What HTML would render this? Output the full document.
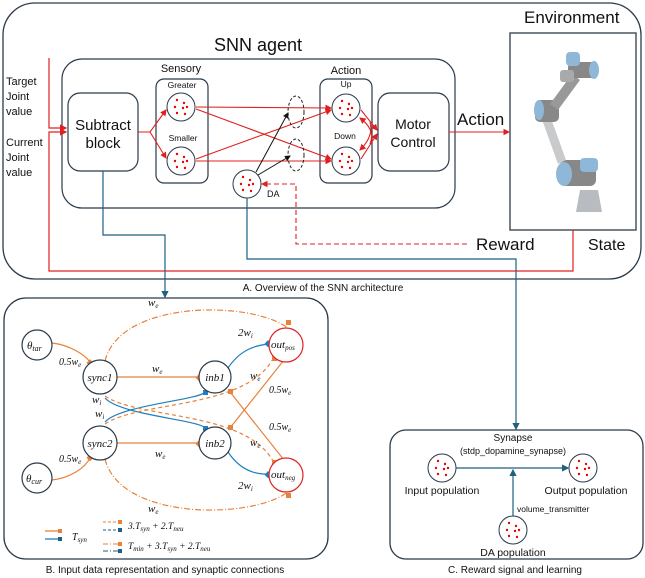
<!DOCTYPE html>
<html><head><meta charset="utf-8"><style>
html,body{margin:0;padding:0;background:#fff}
svg{display:block}
text{font-family:"Liberation Sans",sans-serif;fill:#111}
.it{font-family:"Liberation Serif",serif;font-style:italic}
</style></head><body>
<svg width="645" height="578" viewBox="0 0 645 578" xmlns="http://www.w3.org/2000/svg">
<defs>
<marker id="ar" markerWidth="6" markerHeight="6" refX="5" refY="3" orient="auto"><path d="M0,0 L6,3 L0,6z" fill="#e02020"/></marker>
<marker id="ab" markerWidth="6" markerHeight="6" refX="5" refY="3" orient="auto"><path d="M0,0 L6,3 L0,6z" fill="#111"/></marker>
<marker id="abl" markerWidth="6" markerHeight="6" refX="5" refY="3" orient="auto"><path d="M0,0 L6,3 L0,6z" fill="#1f5f80"/></marker>
<g id="dots"><circle cx="-4" cy="-7" r="1.2" fill="#e00"/><circle cx="3" cy="-4" r="1.2" fill="#e00"/><circle cx="-6" cy="0" r="1.2" fill="#e00"/><circle cx="2" cy="1" r="1.2" fill="#e00"/><circle cx="6" cy="0" r="1.2" fill="#e00"/><circle cx="-4" cy="6" r="1.2" fill="#e00"/><circle cx="4" cy="7" r="1.2" fill="#e00"/></g>
</defs>

<!-- Box A -->
<rect x="3" y="3" width="638" height="276" rx="32" fill="none" stroke="#2b3a4a" stroke-width="1.3"/>
<text x="524" y="23" font-size="17">Environment</text>
<rect x="510" y="33" width="126" height="197" fill="none" stroke="#4a5560" stroke-width="1.5"/>
<!-- robot -->
<g>
<path d="M580,190 L598,190 L602,212 L576,212z" fill="#b8bcc0"/>
<rect x="560" y="160" width="36" height="26" rx="6" fill="#888"/>
<ellipse cx="564" cy="174" rx="8" ry="12" fill="#8fb8d8"/>
<rect x="580" y="158" width="18" height="14" rx="4" fill="#8fb8d8"/>
<path d="M548,110 L566,160 L558,164 L540,114z" fill="#c8cacc"/>
<rect x="535" y="100" width="24" height="22" rx="5" fill="#888"/>
<ellipse cx="539" cy="110" rx="5" ry="10" fill="#8fb8d8"/>
<path d="M550,104 L572,74 L580,80 L558,110z" fill="#999"/>
<rect x="568" y="62" width="28" height="16" rx="5" fill="#888"/>
<ellipse cx="594" cy="70" rx="5" ry="9" fill="#8fb8d8"/>
<rect x="566" y="52" width="14" height="14" rx="4" fill="#8fb8d8"/>
<rect x="560" y="70" width="14" height="12" rx="3" fill="#aaa"/>
</g>
<text x="588" y="250" font-size="16">State</text>
<text x="258" y="51" font-size="18" text-anchor="middle">SNN agent</text>
<rect x="62" y="59" width="393" height="149" rx="20" fill="none" stroke="#2b3a4a" stroke-width="1.2"/>
<text x="6" y="85" font-size="11">Target</text>
<text x="6" y="100" font-size="11">Joint</text>
<text x="6" y="115" font-size="11">value</text>
<text x="6" y="146" font-size="11">Current</text>
<text x="6" y="161" font-size="11">Joint</text>
<text x="6" y="176" font-size="11">value</text>
<!-- red loop -->
<polyline points="49,58 49,128 66,128" fill="none" stroke="#e02020" stroke-width="1.2" marker-end="url(#ar)"/>
<polyline points="573,230 573,271 49,271 49,132 66,132" fill="none" stroke="#e02020" stroke-width="1.2" marker-end="url(#ar)"/>
<rect x="68" y="93" width="70" height="78" rx="12" fill="#fff" stroke="#2b3a4a" stroke-width="1.2"/>
<text x="103" y="130" font-size="15" text-anchor="middle">Subtract</text>
<text x="103" y="148" font-size="15" text-anchor="middle">block</text>
<text x="181" y="72" font-size="11" text-anchor="middle">Sensory</text>
<rect x="156" y="79" width="52" height="104" rx="8" fill="none" stroke="#2b3a4a" stroke-width="1.2"/>
<text x="182" y="88" font-size="8.5" text-anchor="middle">Greater</text>
<text x="183" y="141" font-size="8.5" text-anchor="middle">Smaller</text>
<text x="346" y="74" font-size="11" text-anchor="middle">Action</text>
<rect x="320" y="79" width="52" height="104" rx="8" fill="none" stroke="#2b3a4a" stroke-width="1.2"/>
<text x="346" y="87" font-size="8.5" text-anchor="middle">Up</text>
<text x="345" y="139" font-size="8.5" text-anchor="middle">Down</text>
<rect x="378" y="93" width="71" height="78" rx="12" fill="#fff" stroke="#2b3a4a" stroke-width="1.2"/>
<text x="413" y="129" font-size="14" text-anchor="middle">Motor</text>
<text x="413" y="147" font-size="14" text-anchor="middle">Control</text>
<!-- red connections -->
<g fill="none" stroke="#e02020" stroke-width="1.1">
<polyline points="138,132 150,132 166,110" marker-end="url(#ar)"/>
<polyline points="150,132 166,158" marker-end="url(#ar)"/>
<line x1="196" y1="107" x2="331" y2="108" marker-end="url(#ar)"/>
<line x1="196" y1="109" x2="331" y2="159" marker-end="url(#ar)"/>
<line x1="196" y1="159" x2="331" y2="110" marker-end="url(#ar)"/>
<line x1="196" y1="161" x2="331" y2="161" marker-end="url(#ar)"/>
<line x1="361" y1="110" x2="377" y2="130" marker-end="url(#ar)"/>
<line x1="361" y1="159" x2="377" y2="134" marker-end="url(#ar)"/>
<path d="M370,122 Q374,136 360,150" marker-end="url(#ar)"/>
<path d="M370,144 Q376,130 360,118" marker-end="url(#ar)"/>
<line x1="449" y1="132" x2="509" y2="132" marker-end="url(#ar)"/>
<polyline points="467,244 296,244 296,184 262,184" stroke-dasharray="5,3" marker-end="url(#ar)"/>
</g>
<text x="457" y="125" font-size="17">Action</text>
<text x="476" y="250" font-size="17">Reward</text>
<circle cx="181" cy="107" r="14" fill="#fff" stroke="#2b3a4a"/><use href="#dots" x="181" y="107"/>
<circle cx="181" cy="161" r="14" fill="#fff" stroke="#2b3a4a"/><use href="#dots" x="181" y="161"/>
<circle cx="346" cy="108" r="14" fill="#fff" stroke="#2b3a4a"/><use href="#dots" x="346" y="108"/>
<circle cx="346" cy="161" r="14" fill="#fff" stroke="#2b3a4a"/><use href="#dots" x="346" y="161"/>
<ellipse cx="296" cy="112" rx="8" ry="16" fill="none" stroke="#222" stroke-dasharray="3,2"/>
<ellipse cx="296" cy="155" rx="8" ry="16" fill="none" stroke="#222" stroke-dasharray="3,2"/>
<line x1="256" y1="172" x2="288" y2="113" stroke="#111" marker-end="url(#ab)"/>
<line x1="258" y1="175" x2="290" y2="156" stroke="#111" marker-end="url(#ab)"/>
<circle cx="247" cy="184" r="14" fill="#fff" stroke="#2b3a4a"/><use href="#dots" x="247" y="184"/>
<text x="267" y="197" font-size="9">DA</text>
<!-- blue lines -->
<polyline points="103,171 103,235 165,235 165,297" fill="none" stroke="#1f5f80" stroke-width="1.2" marker-end="url(#abl)"/>
<polyline points="247,198 247,259 516,259 516,429" fill="none" stroke="#1f5f80" stroke-width="1.2" marker-end="url(#abl)"/>
<text x="323" y="291" font-size="10" text-anchor="middle">A. Overview of the SNN architecture</text>

<!-- Box B -->
<rect x="4" y="298" width="324" height="261" rx="22" fill="none" stroke="#2b3a4a" stroke-width="1.3"/>
<g fill="none" stroke-width="1.2">
<path d="M105,361 C120,300 250,300 288,328" stroke="#e8823a" stroke-dasharray="6,2,1,2"/>
<path d="M105,459 C120,520 250,520 288,492" stroke="#e8823a" stroke-dasharray="6,2,1,2"/>
<path d="M52,343 C70,345 85,355 90,362" stroke="#e8823a"/>
<path d="M52,480 C70,478 85,468 90,458" stroke="#e8823a"/>
<line x1="116" y1="377" x2="199" y2="377" stroke="#e8823a"/>
<line x1="116" y1="443" x2="199" y2="443" stroke="#e8823a"/>
<path d="M228,368 C240,350 255,345 270,344" stroke="#1f7fc0"/>
<path d="M228,452 C240,470 255,475 270,474" stroke="#1f7fc0"/>
<path d="M105,398 C120,415 200,420 205,428" stroke="#1f7fc0"/>
<path d="M105,422 C120,405 200,400 205,392" stroke="#1f7fc0"/>
<path d="M105,396 C140,420 250,410 275,465" stroke="#e8823a" stroke-dasharray="4,3"/>
<path d="M105,424 C140,400 250,410 275,355" stroke="#e8823a" stroke-dasharray="4,3"/>
<line x1="230" y1="392" x2="284" y2="460" stroke="#e8823a"/>
<line x1="230" y1="428" x2="284" y2="360" stroke="#e8823a"/>
</g>
<g fill="#e8823a"><rect x="88" y="360" width="5" height="5" transform="rotate(45 90 362)"/><rect x="88" y="455" width="5" height="5" transform="rotate(45 90 457)"/><rect x="197" y="375" width="5" height="5" transform="rotate(45 199 377)"/><rect x="197" y="441" width="5" height="5" transform="rotate(45 199 443)"/><rect x="286" y="320" width="5" height="5"/><rect x="286" y="493" width="5" height="5"/><rect x="228" y="389" width="5" height="5"/><rect x="228" y="425" width="5" height="5"/><rect x="272" y="356" width="5" height="5"/><rect x="272" y="460" width="5" height="5"/></g>
<g fill="#1f7fc0"><rect x="266" y="341" width="5" height="5" transform="rotate(45 268 343)"/><rect x="266" y="472" width="5" height="5" transform="rotate(45 268 474)"/><rect x="203" y="390" width="5" height="5"/><rect x="203" y="426" width="5" height="5"/></g>
<g fill="#fff" stroke="#2b3a4a" stroke-width="1.2">
<circle cx="37" cy="345" r="15"/><circle cx="37" cy="478" r="15"/>
<circle cx="100" cy="377" r="17"/><circle cx="100" cy="443" r="17"/>
<circle cx="215" cy="377" r="16"/><circle cx="215" cy="443" r="16"/>
<circle cx="286" cy="345" r="17" stroke="#e02020"/><circle cx="286" cy="475" r="17" stroke="#e02020"/>
</g>
<g class="it" font-size="11">
<text x="27" y="349" class="it">θ<tspan font-size="8" dy="2">tar</tspan></text>
<text x="26" y="482" class="it">θ<tspan font-size="8" dy="2">cur</tspan></text>
<text x="100" y="381" class="it" text-anchor="middle">sync1</text>
<text x="100" y="447" class="it" text-anchor="middle">sync2</text>
<text x="215" y="381" class="it" text-anchor="middle">inb1</text>
<text x="215" y="447" class="it" text-anchor="middle">inb2</text>
<text x="271" y="348" class="it">out<tspan font-size="7" dy="2">pos</tspan></text>
<text x="271" y="478" class="it">out<tspan font-size="7" dy="2">neg</tspan></text>
<text x="148" y="306" class="it">w<tspan font-size="7" dy="2">e</tspan></text>
<text x="148" y="512" class="it">w<tspan font-size="7" dy="2">e</tspan></text>
<text x="59" y="365" class="it" font-size="10">0.5w<tspan font-size="7" dy="2">e</tspan></text>
<text x="59" y="462" class="it" font-size="10">0.5w<tspan font-size="7" dy="2">e</tspan></text>
<text x="152" y="372" class="it">w<tspan font-size="7" dy="2">e</tspan></text>
<text x="155" y="457" class="it">w<tspan font-size="7" dy="2">e</tspan></text>
<text x="92" y="403" class="it">w<tspan font-size="7" dy="2">i</tspan></text>
<text x="95" y="417" class="it">w<tspan font-size="7" dy="2">i</tspan></text>
<text x="238" y="336" class="it">2w<tspan font-size="7" dy="2">i</tspan></text>
<text x="238" y="489" class="it">2w<tspan font-size="7" dy="2">i</tspan></text>
<text x="250" y="379" class="it">w<tspan font-size="7" dy="2">e</tspan></text>
<text x="250" y="446" class="it">w<tspan font-size="7" dy="2">e</tspan></text>
<text x="269" y="393" class="it" font-size="10">0.5w<tspan font-size="7" dy="2">e</tspan></text>
<text x="269" y="430" class="it" font-size="10">0.5w<tspan font-size="7" dy="2">e</tspan></text>
</g>
<!-- legend -->
<line x1="45" y1="531" x2="60" y2="531" stroke="#e8823a" stroke-width="1.3"/><rect x="58" y="529" width="4" height="4" fill="#e8823a"/>
<line x1="45" y1="539" x2="60" y2="539" stroke="#1f7fc0" stroke-width="1.3"/><rect x="58" y="537" width="4" height="4" fill="#1f5f80"/>
<text x="72" y="540" class="it" font-size="10">T<tspan font-size="7" dy="2">syn</tspan></text>
<line x1="103" y1="522" x2="120" y2="522" stroke="#e8823a" stroke-dasharray="3,2"/><rect x="118" y="520" width="4" height="4" fill="#e8823a"/>
<line x1="103" y1="530" x2="120" y2="530" stroke="#1f5f80" stroke-dasharray="3,2"/><rect x="118" y="528" width="4" height="4" fill="#1f5f80"/>
<text x="128" y="529" class="it" font-size="9.5">3.T<tspan font-size="7" dy="2">syn</tspan><tspan dy="-2"> + 2.T</tspan><tspan font-size="7" dy="2">neu</tspan></text>
<line x1="103" y1="544" x2="120" y2="544" stroke="#e8823a" stroke-dasharray="5,2,1,2"/><rect x="118" y="542" width="4" height="4" fill="#e8823a"/>
<line x1="103" y1="551" x2="120" y2="551" stroke="#1f5f80" stroke-dasharray="5,2,1,2"/><rect x="118" y="549" width="4" height="4" fill="#1f5f80"/>
<text x="128" y="549" class="it" font-size="9.5">T<tspan font-size="7" dy="2">min</tspan><tspan dy="-2"> + 3.T</tspan><tspan font-size="7" dy="2">syn</tspan><tspan dy="-2"> + 2.T</tspan><tspan font-size="7" dy="2">neu</tspan></text>
<text x="165" y="573" font-size="10" text-anchor="middle">B. Input data representation and synaptic connections</text>

<!-- Box C -->
<rect x="390" y="430" width="253" height="129" rx="16" fill="none" stroke="#2b3a4a" stroke-width="1.3"/>
<text x="513" y="441" font-size="10" text-anchor="middle">Synapse</text>
<text x="513" y="454" font-size="9" text-anchor="middle">(stdp_dopamine_synapse)</text>
<line x1="456" y1="468" x2="568" y2="468" stroke="#1f5f80" stroke-width="1.2" marker-end="url(#abl)"/>
<line x1="513" y1="516" x2="513" y2="470" stroke="#1f5f80" stroke-width="1.2" marker-end="url(#abl)"/>
<circle cx="442" cy="468" r="14" fill="#fff" stroke="#2b3a4a"/><use href="#dots" x="442" y="468"/>
<circle cx="583" cy="468" r="14" fill="#fff" stroke="#2b3a4a"/><use href="#dots" x="583" y="468"/>
<circle cx="513" cy="530" r="14" fill="#fff" stroke="#2b3a4a"/><use href="#dots" x="513" y="530"/>
<text x="442" y="494" font-size="10.5" text-anchor="middle">Input population</text>
<text x="586" y="494" font-size="10.5" text-anchor="middle">Output population</text>
<text x="517" y="512" font-size="8.5">volume_transmitter</text>
<text x="513" y="556" font-size="10.5" text-anchor="middle">DA population</text>
<text x="515" y="573" font-size="10" text-anchor="middle">C. Reward signal and learning</text>
</svg>
</body></html>
